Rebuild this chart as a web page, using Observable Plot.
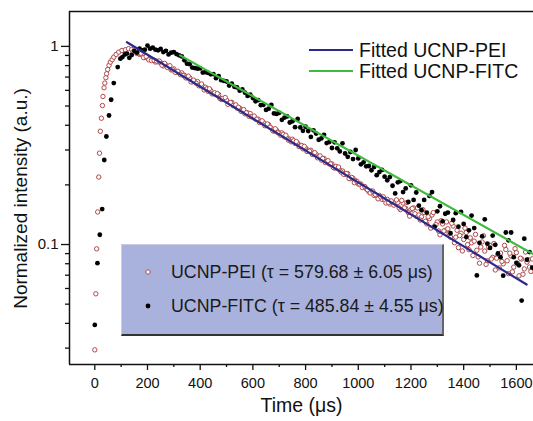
<!DOCTYPE html>
<html><head><meta charset="utf-8">
<script src="https://cdn.jsdelivr.net/npm/d3@7"></script>
<script src="https://cdn.jsdelivr.net/npm/@observablehq/plot@0.6"></script>
<style>
body{margin:0;background:#fff;font-family:"Liberation Sans",Arial,sans-serif;}
#wrap{position:relative;width:533px;height:421px;overflow:hidden;}
#wrap svg.plot{position:absolute;left:0;top:0;}
.fitleg{position:absolute;left:309px;height:22px;line-height:22px;font-size:19.5px;color:#111;white-space:nowrap;}
.fitleg .l{position:absolute;left:0;top:10px;width:44px;height:2.4px;}
.fitleg .t{position:absolute;left:50px;top:0;}
#box{position:absolute;left:121px;top:244px;width:323px;height:92px;background:#a9b2dd;box-sizing:border-box;
 border-top:1px solid #c9cce2;border-left:1px solid #c9cce2;border-right:2px solid #666;border-bottom:2px solid #333;}
#box .row{position:absolute;left:0;height:22px;line-height:22px;font-size:17.8px;color:#1a1a1a;white-space:nowrap;}
#box .row svg{position:absolute;left:20px;top:5px;}
#box .row .t{position:absolute;left:49px;top:0;}
</style>
</head><body>
<div id="wrap"></div>
<script>
// ---- data ----
const peiTime = [0,4,7,11,15,18,21,25,29,31,35,38,42,45,49,54,59,66,72,81,91,103,116,128,
140,150,160,170,180,190,200,210,220,230,240,250,260,270,280,290,300,310,320,330,
340,350,360,370,380,390,400,410,420,430,440,450,460,470,480,490,500,510,520,530,
540,550,560,570,580,590,600,610,620,630,640,650,660,670,680,690,700,710,720,730,
740,750,760,770,780,790,800,810,820,830,840,850,860,870,880,890,900,910,920,930,
940,950,960,970,980,990,1000,1010,1020,1030,1040,1050,1060,1070,1080,1090,1100,1110,1120,1130,
1140,1150,1160,1170,1180,1190,1200,1210,1220,1230,1240,1250,1260,1270,1280,1290,1300,1310,1320,1330,
1340,1350,1360,1370,1380,1390,1400,1410,1420,1430,1440,1450,1460,1470,1480,1490,1500,1510,1520,1530,
1540,1550,1560,1570,1580,1590,1600,1610,1620,1630,1640,1650,1660];
const peiValue = [0.0294,0.0564,0.0951,0.146,0.219,0.289,0.373,0.434,0.503,0.559,0.618,0.653,0.695,0.728,0.765,0.802,0.833,0.857,0.883,0.911,0.936,0.954,0.962,0.974,
0.965,0.957,0.920,0.912,0.905,0.879,0.872,0.865,0.858,0.834,0.835,0.828,0.797,0.806,0.783,0.761,0.770,0.741,0.734,0.735,
0.715,0.694,0.695,0.663,0.663,0.664,0.633,0.628,0.622,0.593,0.599,0.577,0.572,0.572,0.540,0.541,0.536,0.516,0.522,0.502,
0.488,0.488,0.475,0.457,0.462,0.458,0.441,0.429,0.429,0.417,0.413,0.398,0.402,0.387,0.373,0.377,0.366,0.366,0.349,0.346,
0.340,0.340,0.324,0.325,0.316,0.304,0.307,0.299,0.299,0.285,0.285,0.277,0.267,0.272,0.262,0.255,0.255,0.243,0.243,0.237,
0.235,0.226,0.228,0.215,0.216,0.210,0.202,0.202,0.196,0.191,0.185,0.186,0.177,0.177,0.177,0.169,0.169,0.169,0.160,0.162,
0.162,0.163,0.150,0.162,0.152,0.145,0.150,0.153,0.139,0.141,0.138,0.145,0.127,0.135,0.141,0.124,0.130,0.112,0.127,0.118,
0.120,0.109,0.124,0.109,0.0964,0.114,0.106,0.115,0.0942,0.102,0.104,0.0936,0.0805,0.103,0.0927,0.0828,0.0991,0.0861,0.0744,0.0883,
0.0905,0.0799,0.0944,0.0713,0.0875,0.0769,0.0910,0.0695,0.0845,0.0753,0.0815,0.0769,0.0846];
// second, interleaved row of PEI samples (the band is two circles thick)
const peiTimeB = [145,155,165,175,185,195,205,215,225,235,245,255,265,275,285,295,305,315,325,335,
345,355,365,375,385,395,405,415,425,435,445,455,465,475,485,495,505,515,525,535,
545,555,565,575,585,595,605,615,625,635,645,655,665,675,685,695,705,715,725,735,
745,755,765,775,785,795,805,815,825,835,845,855,865,875,885,895,905,915,925,935,
945,955,965,975,985,995,1005,1015,1025,1035,1045,1055,1065,1075,1085,1095,1105,1115,1125,1135,
1145,1155,1165,1175,1185,1195,1205,1215,1225,1235,1245,1255,1265,1275,1285,1295,1305,1315,1325,1335,
1345,1355,1365,1375,1385,1395,1405,1415,1425,1435,1445,1455,1465,1475,1485,1495,1505,1515,1525,1535,
1545,1555,1565,1575,1585,1595,1605,1615,1625,1635,1645,1655];
const peiValueB = [0.936,0.958,0.921,0.923,0.878,0.889,0.855,0.848,0.850,0.843,0.844,0.804,0.821,0.783,0.799,0.762,0.740,0.749,0.720,0.714,
0.694,0.708,0.662,0.676,0.651,0.633,0.646,0.603,0.610,0.611,0.576,0.583,0.578,0.545,0.546,0.552,0.510,0.521,0.502,0.507,
0.493,0.470,0.480,0.462,0.444,0.441,0.445,0.429,0.413,0.421,0.398,0.406,0.391,0.376,0.384,0.366,0.356,0.360,0.356,0.336,
0.330,0.334,0.331,0.312,0.316,0.313,0.295,0.296,0.285,0.291,0.274,0.280,0.272,0.259,0.265,0.255,0.245,0.248,0.246,0.232,
0.226,0.228,0.215,0.218,0.205,0.208,0.202,0.194,0.196,0.189,0.182,0.186,0.179,0.170,0.174,0.174,0.162,0.163,0.166,0.158,
0.168,0.153,0.167,0.153,0.163,0.139,0.152,0.143,0.153,0.133,0.150,0.131,0.138,0.121,0.145,0.126,0.117,0.132,0.117,0.130,
0.114,0.128,0.102,0.118,0.111,0.0928,0.121,0.0999,0.108,0.0880,0.1125,0.0866,0.0971,0.1107,0.0794,0.0968,0.0845,0.1012,0.0853,0.0762,
0.0822,0.0990,0.0828,0.0904,0.0728,0.0953,0.0802,0.0853,0.0708,0.0917,0.0838,0.0731];

const fitcTime = [0,10,19,28,36,44,54,62,72,87,97,105,114,122,131,
140,150,160,170,180,190,200,210,220,230,240,250,260,270,280,290,300,310,320,330,
340,350,360,370,380,390,400,410,420,430,440,450,460,470,480,490,500,510,520,530,
540,550,560,570,580,590,600,610,620,630,640,650,660,670,680,690,700,710,720,730,
740,750,760,770,780,790,800,810,820,830,840,850,860,870,880,890,900,910,920,930,
940,950,960,970,980,990,1000,1010,1020,1030,1040,1050,1060,1070,1080,1090,1100,1110,1120,1130,
1140,1150,1160,1170,1180,1190,1200,1210,1220,1230,1240,1250,1260,1270,1280,1290,1300,1310,1320,1330,
1340,1350,1360,1370,1380,1390,1400,1410,1420,1430,1440,1450,1460,1470,1480,1490,1500,1510,1520,1530,
1540,1550,1560,1570,1580,1590,1600,1610,1620,1630,1640,1650,1660];
const fitcValue = [0.0393,0.0805,0.112,0.151,0.267,0.351,0.448,0.538,0.653,0.786,0.867,0.883,0.910,0.920,0.876,
0.905,0.947,0.930,0.974,0.955,0.962,1.010,0.974,0.985,0.962,0.955,0.970,0.936,0.950,0.911,0.930,0.936,0.915,0.901,0.890,
0.850,0.818,0.813,0.782,0.777,0.772,0.774,0.738,0.741,0.735,0.723,0.725,0.691,0.708,0.675,0.670,0.665,0.634,0.649,0.625,
0.621,0.598,0.606,0.584,0.562,0.570,0.549,0.528,0.535,0.505,0.507,0.478,0.485,0.506,0.459,0.456,0.462,0.426,0.437,0.443,
0.413,0.419,0.391,0.430,0.390,0.375,0.393,0.374,0.349,0.377,0.363,0.338,0.343,0.358,0.325,0.329,0.307,0.328,0.306,0.295,
0.324,0.288,0.277,0.293,0.270,0.300,0.272,0.254,0.260,0.248,0.249,0.237,0.246,0.224,0.232,0.238,0.220,0.211,0.219,0.198,
0.181,0.206,0.209,0.184,0.192,0.164,0.199,0.168,0.183,0.157,0.149,0.168,0.145,0.176,0.184,0.123,0.147,0.156,0.131,0.143,
0.145,0.114,0.133,0.144,0.123,0.146,0.127,0.109,0.118,0.140,0.121,0.0698,0.102,0.110,0.134,0.101,0.0961,0.111,0.0997,0.0901,
0.0863,0.0696,0.115,0.105,0.115,0.0863,0.0808,0.0785,0.0521,0.107,0.0839,0.0916,0.0765];

const fitPeiTime = [122, 1639];
const fitPeiValue = [1.05, 0.0628];
const fitFitcTime = [324, 1665];
const fitFitcValue = [0.901, 0.0893];

const xMajorTicks = [0,200,400,600,800,1000,1200,1400,1600];
const xMinorTicks = [100,300,500,700,900,1100,1300,1500];
const yMajorTicks = [0.1, 1];
const yMinorTicks = [0.03,0.04,0.05,0.06,0.07,0.08,0.09,0.2,0.3,0.4,0.5,0.6,0.7,0.8,0.9];

const seriesLabels = ["UCNP-PEI (τ = 579.68 ± 6.05 μs)", "UCNP-FITC (τ = 485.84 ± 4.55 μs)"];
const fitLabels = ["Fitted UCNP-PEI", "Fitted UCNP-FITC"];
const xTitle = "Time (μs)";
const yTitle = "Normalized intensity (a.u.)";

const xDomain = [-96, 1665];
const yDomain = [0.0248, 1.5];

// ---- styles ----
const peiColor = "#b04a4a";
const fitPeiColor = "#2a2a8c";
const fitFitcColor = "#3dbb3d";

const pei = peiTime.map((t, i) => ({t, v: peiValue[i]}))
  .concat(peiTimeB.map((t, i) => ({t, v: peiValueB[i]})));
const fitc = fitcTime.map((t, i) => ({t, v: fitcValue[i]}));
const fitPei = fitPeiTime.map((t, i) => ({t, v: fitPeiValue[i]}));
const fitFitc = fitFitcTime.map((t, i) => ({t, v: fitFitcValue[i]}));

const chart = Plot.plot({
  width: 533, height: 421,
  marginLeft: 69, marginRight: 0, marginTop: 11, marginBottom: 57,
  style: {fontFamily: "'Liberation Sans', Arial, sans-serif", background: "transparent", color: "#111"},
  x: {domain: xDomain, axis: null},
  y: {type: "log", domain: yDomain, axis: null},
  marks: [
    Plot.dot(pei, {x: "t", y: "v", r: 2.2, stroke: peiColor, fill: "white", strokeWidth: 1, clip: true}),
    Plot.dot(fitc, {x: "t", y: "v", r: 2.4, fill: "black", stroke: "none", clip: true}),
    Plot.line(fitPei, {x: "t", y: "v", stroke: fitPeiColor, strokeWidth: 2.2, clip: true}),
    Plot.line(fitFitc, {x: "t", y: "v", stroke: fitFitcColor, strokeWidth: 2.2, clip: true}),
    Plot.ruleY([yDomain[0], yDomain[1]], {stroke: "#111", strokeWidth: 1.5}),
    Plot.ruleX([xDomain[0]], {stroke: "#111", strokeWidth: 1.5}),
    Plot.axisX(xMajorTicks, {tickSize: 6, tickPadding: 7, fontSize: 14.5, label: null, tickFormat: d => String(d), strokeWidth: 1.3}),
    Plot.axisX(xMinorTicks, {tickSize: 3, label: null, tickFormat: () => "", strokeWidth: 1.3}),
    Plot.axisY(yMajorTicks, {tickSize: 8, tickPadding: 3, fontSize: 15, label: null, tickFormat: d => String(d), strokeWidth: 1.3}),
    Plot.axisY(yMinorTicks, {tickSize: 4, label: null, tickFormat: () => "", strokeWidth: 1.3}),
    Plot.text([xTitle], {text: d => d, frameAnchor: "bottom", dy: 47, fontSize: 19.5}),
    Plot.text([yTitle], {text: d => d, frameAnchor: "left", textAnchor: "middle", dx: -49, dy: 10.5, rotate: -90, fontSize: 19})
  ]
});
chart.classList.add("plot");
const wrap = document.getElementById("wrap");
wrap.appendChild(chart);

// fitted-curve legend (top right)
const fitColors = [fitPeiColor, fitFitcColor];
const fitTops = [39, 60];
fitLabels.forEach((lab, i) => {
  const d = document.createElement("div");
  d.className = "fitleg";
  d.style.top = fitTops[i] + "px";
  d.innerHTML = `<span class="l" style="background:${fitColors[i]}"></span><span class="t"></span>`;
  d.querySelector(".t").textContent = lab;
  wrap.appendChild(d);
});

// data legend box
const box = document.createElement("div");
box.id = "box";
const rowTops = [16, 50];
seriesLabels.forEach((lab, i) => {
  const r = document.createElement("div");
  r.className = "row";
  r.style.top = rowTops[i] + "px";
  const marker = i === 0
    ? `<svg width="12" height="12"><circle cx="6" cy="6" r="2.2" fill="white" stroke="${peiColor}" stroke-width="1"/></svg>`
    : `<svg width="12" height="12"><circle cx="6" cy="6" r="2.4" fill="black"/></svg>`;
  r.innerHTML = marker + `<span class="t"></span>`;
  r.querySelector(".t").textContent = lab;
  box.appendChild(r);
});
wrap.appendChild(box);
</script>
</body></html>
